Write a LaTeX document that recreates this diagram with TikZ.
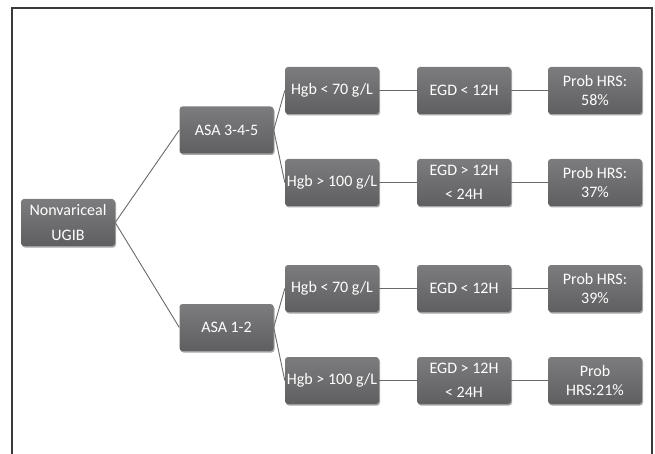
\documentclass[tikz,border=0pt]{standalone}
\usepackage{fontspec}
\setmainfont{Carlito}
\usetikzlibrary{shadows}
\definecolor{boxtop}{HTML}{7C7C7E}
\definecolor{boxbot}{HTML}{5F5F61}
\definecolor{linkgray}{HTML}{6A6A6A}
\definecolor{framegray}{HTML}{3A3A3A}
\tikzset{
  stepbox/.style={rectangle, rounded corners=3pt, minimum width=94pt, minimum height=47pt,
    inner sep=1pt, top color=boxtop, bottom color=boxbot, draw=none, text=white,
    align=center, font=\fontsize{16}{18.4}\selectfont,
    drop shadow={shadow xshift=1pt, shadow yshift=-1.5pt, opacity=0.35, fill=black}},
  link/.style={draw=linkgray, line width=0.9pt},
}
\begin{document}
\begin{tikzpicture}[x=1pt, y=-1pt]
\useasboundingbox (0,0) rectangle (655,454);
% open outer frame
\draw[framegray, line width=1.4pt] (12,454) -- (12,8) -- (652,8) -- (652,454);

% root and risk groups
\node[stepbox] (root) at (68,222.5) {Nonvariceal\\[6pt]UGIB};
\node[stepbox] (asaA) at (226.5,130) {ASA 3-4-5};
\node[stepbox] (asaB) at (226.5,327.5) {ASA 1-2};

% haemoglobin level
\node[stepbox] (hgbA) at (332,90.5) {Hgb < 70 g/L};
\node[stepbox] (hgbB) at (332,182.5) {Hgb > 100 g/L};
\node[stepbox] (hgbC) at (332,288.5) {Hgb < 70 g/L};
\node[stepbox] (hgbD) at (332,380.5) {Hgb > 100 g/L};

% endoscopy timing
\node[stepbox] (egdA) at (464,90.5) {EGD < 12H};
\node[stepbox] (egdB) at (464,182.5) {EGD > 12H\\[6pt]< 24H};
\node[stepbox] (egdC) at (464,288.5) {EGD < 12H};
\node[stepbox] (egdD) at (464,380.5) {EGD > 12H\\[6pt]< 24H};

% outcome probabilities
\node[stepbox] (prbA) at (595,90.5) {Prob HRS:\\58\%};
\node[stepbox] (prbB) at (595,182.5) {Prob HRS:\\37\%};
\node[stepbox] (prbC) at (595,288.5) {Prob HRS:\\39\%};
\node[stepbox] (prbD) at (595,380.5) {Prob\\HRS:21\%};

% connectors
\draw[link] (root.east) -- (asaA.west);
\draw[link] (root.east) -- (asaB.west);
\draw[link] (asaA.east) -- (hgbA.west);
\draw[link] (asaA.east) -- (hgbB.west);
\draw[link] (asaB.east) -- (hgbC.west);
\draw[link] (asaB.east) -- (hgbD.west);
\foreach \r in {A,B,C,D}{
  \draw[link] (hgb\r.east) -- (egd\r.west);
  \draw[link] (egd\r.east) -- (prb\r.west);
}
\end{tikzpicture}
\end{document}
